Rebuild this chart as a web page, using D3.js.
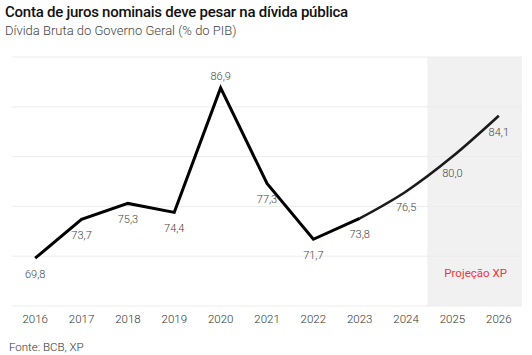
<!DOCTYPE html>
<html><head><meta charset="utf-8">
<script src="https://cdn.jsdelivr.net/npm/d3@7"></script>
<style>body{margin:0;background:#fff;font-family:Roboto,sans-serif}</style>
</head><body><svg id="c" width="532" height="355"></svg>
<script>
const years = ["2016","2017","2018","2019","2020","2021","2022","2023","2024","2025","2026"];
const values = [69.8,73.7,75.3,74.4,86.9,77.3,71.7,73.8,76.5,80.0,84.1];
const labels = ["69,8","73,7","75,3","74,4","86,9","77,3","71,7","73,8","76,5","80,0","84,1"];
const yTicks = [65,70,75,80,85,90];
const projYears = ["2025","2026"];

const svg = d3.select("#c");
const x = d3.scaleBand().domain(years).range([12,522]);
const y = d3.scaleLinear().domain([65,90]).range([306,57]);
const cx = d => x(d)+x.bandwidth()/2;

// projection shading
svg.append("rect").attr("x",x(projYears[0])-2).attr("y",y(90))
  .attr("width",522-x(projYears[0])+2).attr("height",y(65)-y(90)).attr("fill","#f1f1f1");

// grid
svg.append("g").selectAll("line").data(yTicks).join("line")
  .attr("x1",12).attr("x2",522).attr("y1",d=>y(d)).attr("y2",d=>y(d))
  .attr("stroke","#ececec").attr("stroke-width",1);

// x axis
const xa = svg.append("g").attr("transform","translate(0,306)").call(d3.axisBottom(x).tickSize(0).tickPadding(9));
xa.select(".domain").remove();
xa.selectAll("text").attr("font-family","Roboto").attr("font-size",11.5).attr("fill","#333").attr("font-weight",300);

const data = years.map((d,i)=>({year:d,v:values[i],l:labels[i]}));
const hist = data.slice(0,8);
const proj = data.slice(7);
svg.append("path").datum(hist).attr("fill","none").attr("stroke","#000").attr("stroke-width",3)
  .attr("stroke-linejoin","miter")
  .attr("d",d3.line().x(d=>cx(d.year)).y(d=>y(d.v)));
svg.append("path").datum(proj).attr("fill","none").attr("stroke","#1a1a1a").attr("stroke-width",2.6)
  .attr("d",d3.line().curve(d3.curveMonotoneX).x(d=>cx(d.year)).y(d=>y(d.v)));

svg.append("g").selectAll("text").data(data).join("text")
  .attr("x",d=>cx(d.year)).attr("y",d=>d.year==="2020"? y(d.v)-8 : y(d.v)+20)
  .attr("text-anchor","middle").attr("font-family","Roboto").attr("font-weight",300)
  .attr("font-size",11).attr("fill","#444").text(d=>d.l);

svg.append("text").attr("x",(x(projYears[0])+522)/2).attr("y",277).attr("text-anchor","middle")
  .attr("font-family","Roboto").attr("font-weight",400).attr("font-size",11.5).attr("fill","#f2333d").text("Projeção XP");

svg.append("text").attr("x",5).attr("y",17).attr("font-family","Roboto").attr("font-weight",500)
  .attr("font-size",15).attr("letter-spacing",-0.25).attr("fill","#111").text("Conta de juros nominais deve pesar na dívida pública");
svg.append("text").attr("x",5).attr("y",35).attr("font-family","Roboto").attr("font-weight",300)
  .attr("font-size",13).attr("fill","#444").text("Dívida Bruta do Governo Geral (% do PIB)");
svg.append("text").attr("x",9).attr("y",351).attr("font-family","Roboto").attr("font-weight",300)
  .attr("font-size",11.5).attr("fill","#333").text("Fonte: BCB, XP");
</script></body></html>
